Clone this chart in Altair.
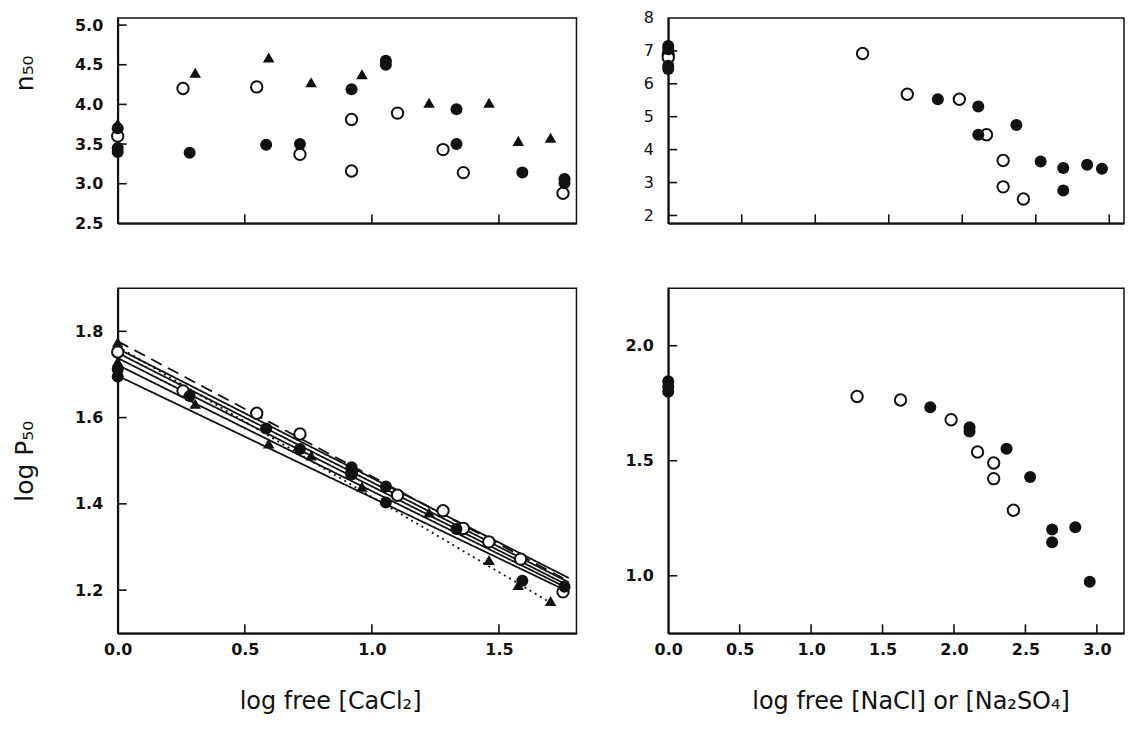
import altair as alt
import pandas as pd

FONT = "DejaVu Sans"
INK = "#111111"

# ---------------- Top-left: n50 vs log free [CaCl2] ----------------
tl_open_x = [0.00, 0.257, 0.547, 0.717, 0.920, 0.920, 1.101, 1.280, 1.360, 1.752]
tl_open_y = [3.60, 4.20, 4.22, 3.37, 3.81, 3.16, 3.89, 3.43, 3.14, 2.88]
tl_fill_x = [0.00, 0.00, 0.00, 0.283, 0.584, 0.717, 0.920, 1.055, 1.055, 1.333, 1.333, 1.592, 1.758, 1.758]
tl_fill_y = [3.70, 3.45, 3.40, 3.39, 3.49, 3.50, 4.19, 4.55, 4.50, 3.94, 3.50, 3.14, 3.06, 3.01]
tl_tri_x = [0.00, 0.305, 0.594, 0.761, 0.961, 1.225, 1.461, 1.576, 1.703]
tl_tri_y = [3.76, 4.40, 4.59, 4.28, 4.38, 4.02, 4.02, 3.54, 3.58]

# ---------------- Top-right: n50 vs log free [NaCl] or [Na2SO4] ----------------
tr_open_x = [0.00, 0.00, 1.322, 1.626, 1.980, 2.165, 2.278, 2.278, 2.416]
tr_open_y = [6.88, 6.80, 6.92, 5.68, 5.53, 4.45, 3.67, 2.87, 2.50]
tr_fill_x = [0.00, 0.00, 0.00, 0.00, 1.834, 2.109, 2.109, 2.368, 2.533, 2.687, 2.687, 2.849, 2.950]
tr_fill_y = [7.15, 7.05, 6.55, 6.45, 5.53, 5.31, 4.45, 4.75, 3.64, 3.44, 2.76, 3.54, 3.42]

# ---------------- Bottom-left: log P50 vs log free [CaCl2] ----------------
bl_open_x = [0.00, 0.257, 0.547, 0.717, 0.920, 1.101, 1.280, 1.360, 1.460, 1.585, 1.752]
bl_open_y = [1.752, 1.662, 1.610, 1.562, 1.470, 1.420, 1.384, 1.343, 1.312, 1.272, 1.196]
bl_fill_x = [0.00, 0.00, 0.283, 0.584, 0.717, 0.920, 0.920, 1.055, 1.055, 1.333, 1.592, 1.758]
bl_fill_y = [1.712, 1.695, 1.650, 1.575, 1.527, 1.485, 1.472, 1.440, 1.403, 1.342, 1.222, 1.208]
bl_tri_x = [0.00, 0.00, 0.305, 0.594, 0.761, 0.961, 1.225, 1.461, 1.576, 1.703]
bl_tri_y = [1.775, 1.730, 1.632, 1.540, 1.512, 1.440, 1.380, 1.270, 1.212, 1.175]

# regression lines (start / end points)
bl_line_style = ["solid", "solid", "solid", "solid", "solid", "dashed", "dotted"]
bl_line_x0 = [0.0, 0.0, 0.0, 0.0, 0.0, 0.0, 0.0]
bl_line_x1 = [1.775, 1.775, 1.775, 1.775, 1.775, 1.770, 1.700]
bl_line_y0 = [1.760, 1.750, 1.738, 1.722, 1.697, 1.777, 1.765]
bl_line_y1 = [1.228, 1.218, 1.210, 1.203, 1.196, 1.222, 1.172]

# ---------------- Bottom-right: log P50 vs log free [NaCl] or [Na2SO4] ----------------
br_open_x = [1.322, 1.626, 1.980, 2.165, 2.278, 2.278, 2.416]
br_open_y = [1.779, 1.764, 1.678, 1.538, 1.490, 1.422, 1.285]
br_fill_x = [0.00, 0.00, 0.00, 1.834, 2.109, 2.109, 2.368, 2.533, 2.687, 2.687, 2.849, 2.950]
br_fill_y = [1.845, 1.822, 1.800, 1.733, 1.645, 1.627, 1.552, 1.429, 1.201, 1.146, 1.211, 0.974]

# ---------------- axes: domains, tick positions, labels ----------------
tl_xdom, tl_ydom = [0, 1.805], [2.5, 5.09]
tr_xdom, tr_ydom = [0, 3.10], [1.76, 8.0]
bl_xdom, bl_ydom = [0, 1.805], [1.10, 1.90]
br_xdom, br_ydom = [0, 3.19], [0.75, 2.25]

tl_ylabels = [2.5, 3.0, 3.5, 4.0, 4.5, 5.0]
tl_yticks = [3.0, 3.5, 4.0, 4.5, 5.0]
tl_xticks = [0.5, 1.0, 1.5]
tr_ylabels = [2, 3, 4, 5, 6, 7, 8]
tr_yticks = [2, 3, 4, 5, 6, 7]
tr_xticks = [0.5, 1.0, 1.5, 2.0, 2.5, 3.0]
bl_ylabels = [1.2, 1.4, 1.6, 1.8]
bl_yticks = [1.2, 1.4, 1.6, 1.8]
bl_xlabels = [0.0, 0.5, 1.0, 1.5]
bl_xticks = [0.5, 1.0, 1.5]
br_ylabels = [1.0, 1.5, 2.0]
br_yticks = [1.0, 1.5, 2.0]
br_xlabels = [0.0, 0.5, 1.0, 1.5, 2.0, 2.5, 3.0]
br_xticks = [0.5, 1.0, 1.5, 2.0, 2.5, 3.0]

LW, RW = 460, 457
TH, BH = 206, 346
TICK = 9


def pts(xs, ys):
    return pd.DataFrame({"x": xs, "y": ys})


def panel(xdom, ydom, xaxis, yaxis, w, h, xticks, yticks,
          open_df=None, fill_df=None, tri_df=None, lines_df=None):
    X = alt.X("x:Q", scale=alt.Scale(domain=xdom, nice=False, zero=False), axis=xaxis)
    Y = alt.Y("y:Q", scale=alt.Scale(domain=ydom, nice=False, zero=False), axis=yaxis)
    layers = []
    layers.append(
        alt.Chart(pd.DataFrame({"x": xticks})).mark_rule(color=INK, strokeWidth=1.6)
        .encode(x=X, y=alt.value(h), y2=alt.value(h - TICK))
    )
    layers.append(
        alt.Chart(pd.DataFrame({"y": yticks})).mark_rule(color=INK, strokeWidth=1.6)
        .encode(y=Y, x=alt.value(0), x2=alt.value(TICK))
    )
    if lines_df is not None:
        dashes = {"solid": [1, 0], "dashed": [12, 7], "dotted": [2, 4]}
        for style, dash in dashes.items():
            sub = lines_df[lines_df["style"] == style]
            layers.append(
                alt.Chart(sub).mark_rule(color=INK, strokeWidth=1.8, strokeDash=dash)
                .encode(x=X, y=Y, x2="xe:Q", y2="ye:Q")
            )
    if open_df is not None:
        layers.append(
            alt.Chart(open_df).mark_point(shape="circle", filled=True, fill="white",
                                          stroke=INK, strokeWidth=2, size=130, opacity=1)
            .encode(x=X, y=Y)
        )
    if fill_df is not None:
        layers.append(
            alt.Chart(fill_df).mark_point(shape="circle", filled=True, color=INK,
                                          size=145, opacity=1)
            .encode(x=X, y=Y)
        )
    if tri_df is not None:
        layers.append(
            alt.Chart(tri_df).mark_point(shape="triangle-up", filled=True, color=INK,
                                         size=135, opacity=1)
            .encode(x=X, y=Y)
        )
    return alt.layer(*layers).properties(width=w, height=h)


def top_xaxis():
    return alt.Axis(labels=False, ticks=False, title=None, grid=False,
                    domain=True, domainColor=INK, domainWidth=2)


tl = panel(
    tl_xdom, tl_ydom, top_xaxis(),
    alt.Axis(values=tl_ylabels, format=".1f", title="n₅₀", ticks=False, grid=False,
             labelPadding=15, labelFontSize=16, labelFontWeight="bold",
             titleFontSize=25, titleX=-80, titleY=55),
    LW, TH, tl_xticks, tl_yticks,
    open_df=pts(tl_open_x, tl_open_y), fill_df=pts(tl_fill_x, tl_fill_y),
    tri_df=pts(tl_tri_x, tl_tri_y),
)

tr = panel(
    tr_xdom, tr_ydom, top_xaxis(),
    alt.Axis(values=tr_ylabels, format="d", title=None, ticks=False, grid=False,
             labelPadding=15, labelFontSize=16, labelFontWeight="normal"),
    RW, TH, tr_xticks, tr_yticks,
    open_df=pts(tr_open_x, tr_open_y), fill_df=pts(tr_fill_x, tr_fill_y),
)

bl_lines = pd.DataFrame({"style": bl_line_style, "x": bl_line_x0, "xe": bl_line_x1,
                         "y": bl_line_y0, "ye": bl_line_y1})

bl = panel(
    bl_xdom, bl_ydom,
    alt.Axis(values=bl_xlabels, format=".1f", title="log free [CaCl₂]", ticks=False, grid=False,
             labelPadding=8, labelFontSize=16, labelFontWeight="bold", labelFlush=False,
             titleFontSize=24, titlePadding=32, titleX=213),
    alt.Axis(values=bl_ylabels, format=".1f", title="log P₅₀", ticks=False, grid=False,
             labelPadding=15, labelFontSize=16, labelFontWeight="bold",
             titleFontSize=25, titleX=-80, titleY=173),
    LW, BH, bl_xticks, bl_yticks,
    open_df=pts(bl_open_x, bl_open_y), fill_df=pts(bl_fill_x, bl_fill_y),
    tri_df=pts(bl_tri_x, bl_tri_y), lines_df=bl_lines,
)

br = panel(
    br_xdom, br_ydom,
    alt.Axis(values=br_xlabels, format=".1f", title="log free [NaCl] or [Na₂SO₄]", ticks=False,
             grid=False, labelPadding=8, labelFontSize=16, labelFontWeight="bold", labelFlush=False,
             titleFontSize=24, titlePadding=32, titleX=243),
    alt.Axis(values=br_ylabels, format=".1f", title=None, ticks=False, grid=False,
             labelPadding=15, labelFontSize=16, labelFontWeight="bold"),
    RW, BH, br_xticks, br_yticks,
    open_df=pts(br_open_x, br_open_y), fill_df=pts(br_fill_x, br_fill_y),
)

chart = (
    alt.concat(tl, tr, bl, br, columns=2, spacing={"row": 55, "column": 46})
    .properties(padding={"left": 4, "top": 0, "right": 0, "bottom": 0}, background="white")
    .configure_view(stroke=INK, strokeWidth=1.5)
    .configure_axis(labelFont=FONT, titleFont=FONT, labelColor=INK, titleColor=INK,
                    domainColor=INK, domainWidth=2, titleFontWeight="normal")
)

chart.save("out.html", embed_options={"renderer": "svg", "actions": False})
